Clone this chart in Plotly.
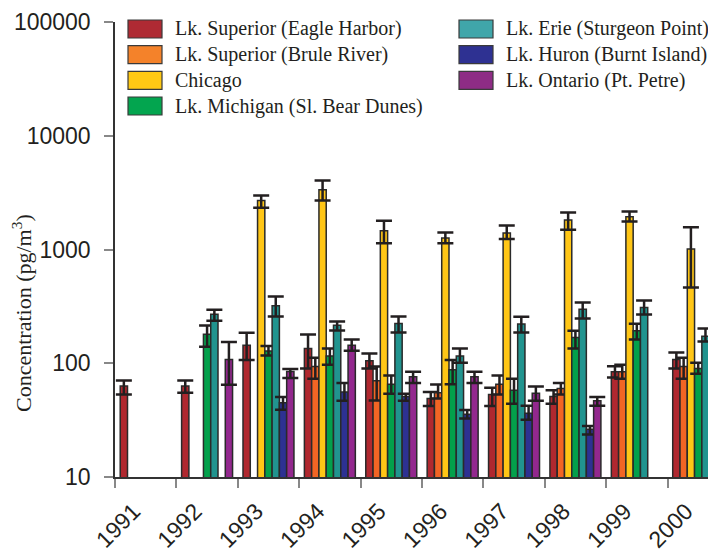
import plotly.graph_objects as go

years = ["1991", "1992", "1993", "1994", "1995", "1996", "1997", "1998", "1999", "2000"]

names = [
    "Lk. Superior (Eagle Harbor)",
    "Lk. Superior (Brule River)",
    "Chicago",
    "Lk. Michigan (Sl. Bear Dunes)",
    "Lk. Erie (Sturgeon Point)",
    "Lk. Huron (Burnt Island)",
    "Lk. Ontario (Pt. Petre)",
]
colors = ["#B0282F", "#F26524", "#FFC616", "#03A04B", "#21948F", "#2D3192", "#93288E"]
legend_colors = ["#AF2A33", "#F4822A", "#FFC914", "#03A54F", "#40A6AA", "#2E3192", "#8E2C85"]

superior_eagle = [63, 63, 144, 135, 105, 49, 53, 51, 84, 108]
superior_eagle_hi = [70.5, 70.5, 185, 179, 122, 56, 61, 58, 94, 124]
superior_eagle_lo = [53, 55, 107, 90, 90, 42, 42, 44, 75, 90]

superior_brule = [None, None, None, 93.5, 70, 55, 65.5, 60, 84, 93.5]
superior_brule_hi = [None, None, None, 112, 93.5, 65, 78, 67, 97, 112]
superior_brule_lo = [None, None, None, 73, 47, 49, 53, 53, 73, 73]

chicago = [None, None, 2690, 3360, 1463, 1262, 1397, 1820, 1945, 1009]
chicago_hi = [None, None, 2990, 4036, 1794, 1413, 1622, 2110, 2160, 1566]
chicago_lo = [None, None, 2330, 2690, 1132, 1132, 1236, 1493, 1766, 463]

michigan = [None, 180, 128, 116, 65.5, 87.5, 58, 168, 193, 90]
michigan_hi = [None, 215, 142, 134.5, 78, 107, 73, 193, 222, 101]
michigan_lo = [None, 140, 117, 97, 54, 65.5, 44, 134.5, 162, 81]

erie = [None, 270, 320, 216, 224, 116, 221, 299, 309, 173]
erie_hi = [None, 295, 386, 233, 258, 134.5, 256, 342, 357, 202]
erie_lo = [None, 236, 258, 194, 186, 101, 186, 248, 268, 155]

huron = [None, None, 45, 56, 51, 35.6, 36.4, 26.3, None, None]
huron_hi = [None, None, 50.6, 67, 54, 38.9, 42.2, 28.1, None, None]
huron_lo = [None, None, 39, 46.7, 46.7, 32.6, 31.8, 23.6, None, None]

ontario = [None, 108, 84.5, 144, 76, 76, 54.6, 46.7, None, None]
ontario_hi = [None, 154, 89, 162, 84, 84, 62.4, 50.6, None, None]
ontario_lo = [None, 64.6, 74, 128.5, 67, 67, 46.7, 42.4, None, None]

y_tickvals = [10, 100, 1000, 10000, 100000]
y_ticktext = ["10", "100", "1000", "10000", "100000"]

series = [
    (superior_eagle, superior_eagle_hi, superior_eagle_lo),
    (superior_brule, superior_brule_hi, superior_brule_lo),
    (chicago, chicago_hi, chicago_lo),
    (michigan, michigan_hi, michigan_lo),
    (erie, erie_hi, erie_lo),
    (huron, huron_hi, huron_lo),
    (ontario, ontario_hi, ontario_lo),
]


def diff(a, b):
    return [None if (x is None or y is None) else x - y for x, y in zip(a, b)]


fig = go.Figure()
for i, (vals, hi, lo) in enumerate(series):
    fig.add_trace(go.Bar(
        x=years, y=vals, name=names[i], showlegend=False,
        marker=dict(color=colors[i], line=dict(color="#2a2a2a", width=1.5)),
        error_y=dict(type="data", symmetric=False,
                     array=diff(hi, vals), arrayminus=diff(vals, lo),
                     color="#231f20", thickness=2.5, width=8),
    ))

serif = "Liberation Serif"
sans = "Liberation Sans"

# figure geometry (the page adds an 8px body margin)
W, H = 708, 546
ML, MR, MT, MB = 107, 0, 14, 77
PW, PH = W - ML - MR, H - MT - MB


def px_x(x):
    return (x - ML) / PW


def px_y(y):
    return (H - MB - y) / PH


# legend: two columns of swatch + label
shapes, annotations = [], []
col_x = [120, 451]
row_top = [12, 37.7, 63.4, 89]
for i, name in enumerate(names):
    col = 0 if i < 4 else 1
    row = i if i < 4 else i - 4
    x0 = col_x[col]
    y0 = row_top[row]
    shapes.append(dict(
        type="rect", xref="paper", yref="paper",
        x0=px_x(x0), x1=px_x(x0 + 34), y0=px_y(y0), y1=px_y(y0 + 18),
        fillcolor=legend_colors[i], line=dict(color="#3a3a3a", width=1.2),
    ))
    annotations.append(dict(
        text=name, xref="paper", yref="paper",
        x=px_x(x0 + 45), y=px_y(y0 + 9), xanchor="left", yanchor="middle",
        showarrow=False, font=dict(family=serif, size=20, color="#231f20"),
    ))

annotations.append(dict(
    text="Concentration (pg/m<sup>3</sup>)", textangle=-90,
    xref="paper", yref="paper", x=px_x(14), y=px_y(305),
    xanchor="center", yanchor="middle", showarrow=False,
    font=dict(family=serif, size=22, color="#231f20"),
))

fig.update_layout(
    width=W, height=H,
    margin=dict(l=ML, r=MR, t=MT, b=MB),
    paper_bgcolor="white", plot_bgcolor="white",
    barmode="group", bargap=0.17, bargroupgap=0,
    showlegend=False,
    font=dict(family=sans, color="#231f20"),
    xaxis=dict(
        type="category", tickson="boundaries", ticks="outside", ticklen=9,
        tickcolor="#888", tickwidth=1.5, tickangle=-45, ticklabelshift=-12,
        ticklabelstandoff=10,
        tickfont=dict(family=sans, size=23, color="#231f20"),
        showline=True, linecolor="#333", linewidth=1.5,
        showgrid=False, zeroline=False, range=[-0.5, 9.29], automargin=False,
    ),
    yaxis=dict(
        type="log", range=[1, 5], tickvals=y_tickvals, ticktext=y_ticktext,
        ticks="outside", ticklen=9, tickcolor="#888", tickwidth=1.5,
        tickfont=dict(family=sans, size=23, color="#231f20"),
        showline=True, linecolor="#333", linewidth=1.5,
        showgrid=False, zeroline=False, automargin=False, ticklabelstandoff=9,
    ),
    shapes=shapes,
    annotations=annotations,
)

fig.write_html("out.html")
